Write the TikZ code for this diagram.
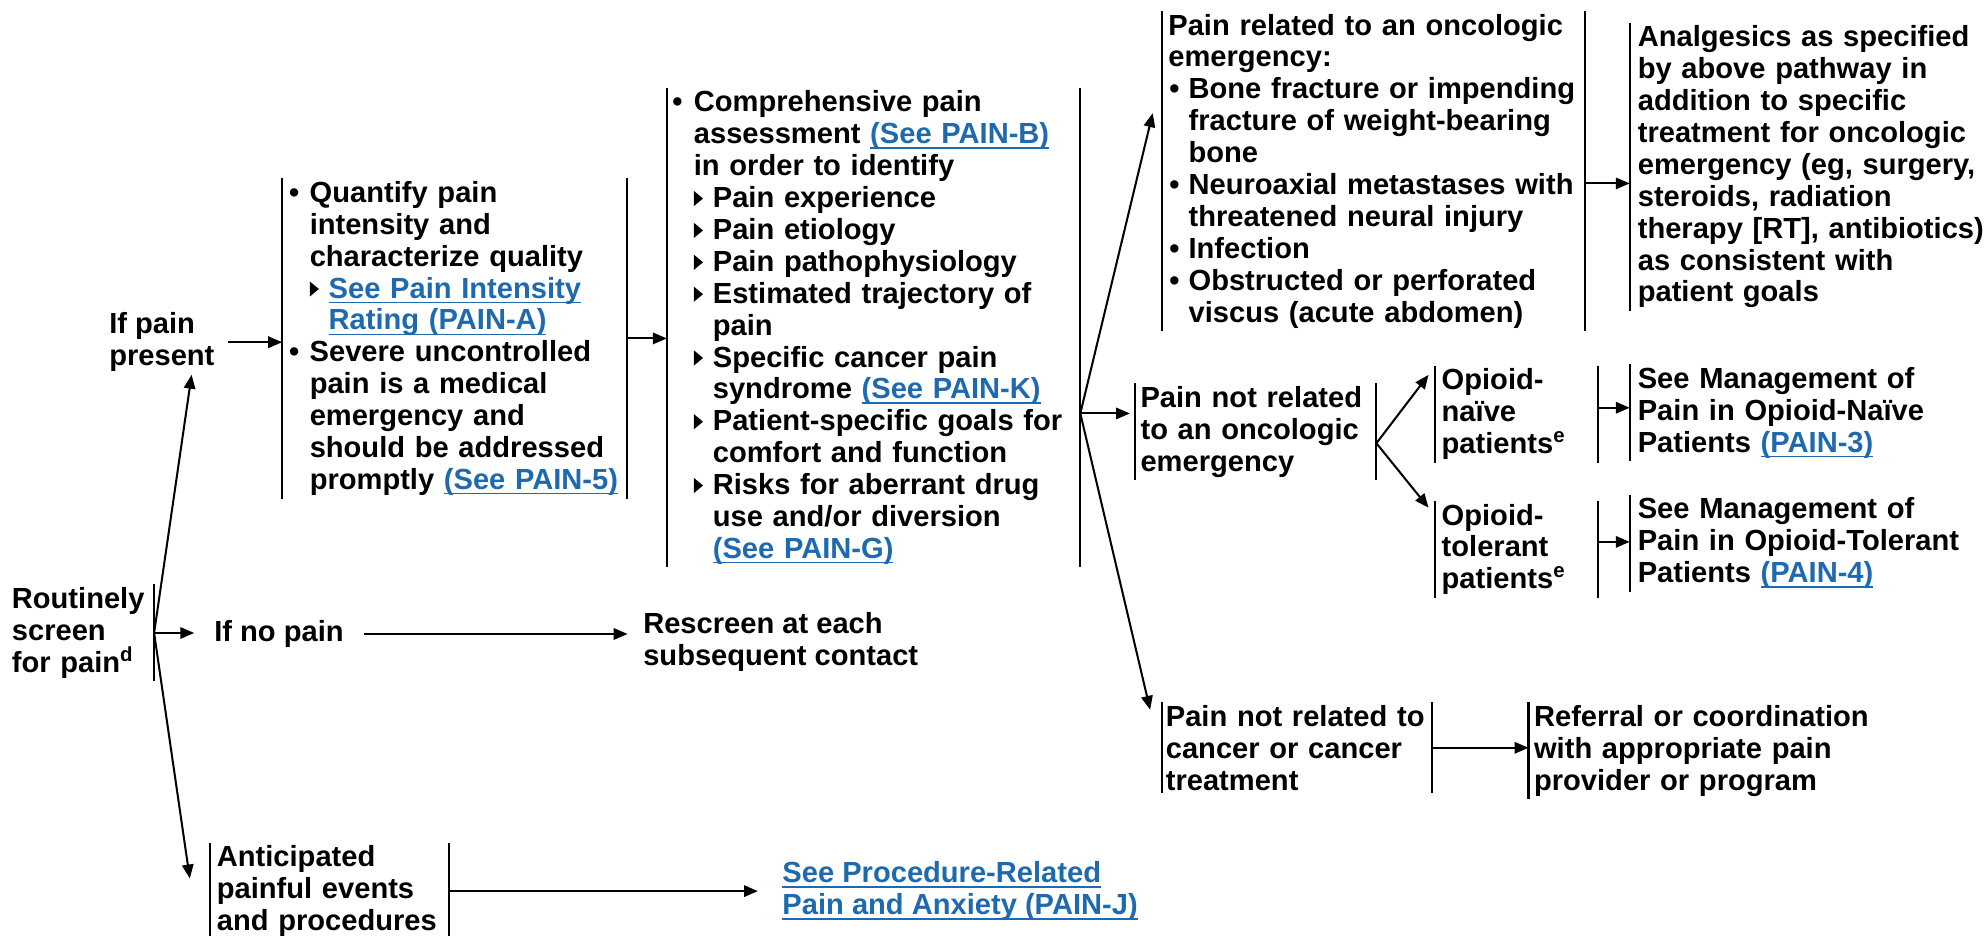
\documentclass[tikz,border=0pt]{standalone}
\usepackage{fontspec}
\setmainfont{Liberation Sans}
\usetikzlibrary{arrows.meta}
\definecolor{linkblue}{HTML}{1F6AAE}
\newcommand\lnk[1]{{\color{linkblue}\setbox0\hbox{#1}\rlap{\rule[-2pt]{\wd0}{0.6pt}}\box0}}
\newcommand\tri{\tikz[baseline=0pt]\fill (0pt,0.6pt)--(0pt,6.6pt)--(3.6pt,3.6pt)--cycle;}
\newcommand\bu[2]{\hspace*{#1}\makebox[#2][l]{\textbullet}}
\newcommand\tr[1]{\makebox[#1][l]{\tri}}
\newcommand\ii[1]{\hspace*{#1}}
\begin{document}
\begin{tikzpicture}[x=0.5pt,y=-0.5pt,
  every node/.style={font=\fontsize{11.5pt}{12.6pt}\selectfont\bfseries, inner ysep=1pt, anchor=base west, align=left},
  arr/.style={line width=0.8pt, -{Triangle[length=5.5pt,width=4.5pt]}},
  bar/.style={line width=0.8pt}]
\useasboundingbox (0,0) rectangle (1568,739);

\node[inner xsep=3pt, text width=53pt] (rs) at (3,481) {Routinely\\screen\\for pain\textsuperscript{d}};
\node[inner xsep=5pt] (ip) at (76,289) {If pain\\present};
\node[inner xsep=7.75pt] (np) at (153.5,507) {If no pain};
\node[inner xsep=6pt] (rc) at (496,526) {Rescreen at each\\subsequent contact};
\node[inner xsep=2.5pt, text width=89pt] (ap) at (166,685) {Anticipated\\painful events\\and procedures};
\node[inner xsep=9.5pt] (pj) at (599,723) {\lnk{See Procedure-Related}\\\lnk{Pain and Anxiety (PAIN-J)}};

\node[inner xsep=2.5pt, text width=131pt] (b1) at (223,160) {%
\bu{0pt}{8.2pt}Quantify pain\\
\ii{8.2pt}intensity and\\
\ii{8.2pt}characterize quality\\
\ii{8.2pt}\tr{7.5pt}\lnk{See Pain Intensity}\\
\ii{15.7pt}\lnk{Rating (PAIN-A)}\\
\bu{0pt}{8.2pt}Severe uncontrolled\\
\ii{8.2pt}pain is a medical\\
\ii{8.2pt}emergency and\\
\ii{8.2pt}should be addressed\\
\ii{8.2pt}promptly \lnk{(See PAIN-5)}};

\node[inner xsep=3pt, text width=157pt] (b2) at (527,88.5) {%
\bu{-1pt}{8.5pt}Comprehensive pain\\
\ii{7.5pt}assessment \lnk{(See PAIN-B)}\\
\ii{7.5pt}in order to identify\\
\ii{7.5pt}\tr{7.5pt}Pain experience\\
\ii{7.5pt}\tr{7.5pt}Pain etiology\\
\ii{7.5pt}\tr{7.5pt}Pain pathophysiology\\
\ii{7.5pt}\tr{7.5pt}Estimated trajectory of\\
\ii{15pt}pain\\
\ii{7.5pt}\tr{7.5pt}Specific cancer pain\\
\ii{15pt}syndrome \lnk{(See PAIN-K)}\\
\ii{7.5pt}\tr{7.5pt}Patient-specific goals for\\
\ii{15pt}comfort and function\\
\ii{7.5pt}\tr{7.5pt}Risks for aberrant drug\\
\ii{15pt}use and/or diversion\\
\ii{15pt}\lnk{(See PAIN-G)}};

\node[inner xsep=2.5pt, text width=162pt] (pr) at (918,27.7) {%
Pain related to an oncologic\\
emergency:\\
\bu{0.4pt}{7.6pt}Bone fracture or impending\\
\ii{8pt}fracture of weight-bearing\\
\ii{8pt}bone\\
\bu{0.4pt}{7.6pt}Neuroaxial metastases with\\
\ii{8pt}threatened neural injury\\
\bu{0.4pt}{7.6pt}Infection\\
\bu{0.4pt}{7.6pt}Obstructed or perforated\\
\ii{8pt}viscus (acute abdomen)};

\node[inner xsep=3pt, text width=140pt] (an) at (1288,37) {%
Analgesics as specified\\by above pathway in\\addition to specific\\treatment for oncologic\\emergency (eg, surgery,\\steroids, radiation\\therapy [RT], antibiotics)\\as consistent with\\patient goals};

\node[inner xsep=2pt, text width=91pt] (pnr) at (897,322) {Pain not related\\to an oncologic\\emergency};
\node[inner xsep=2.5pt, text width=59pt] (on) at (1134,308) {Opioid-\\naïve\\patients\textsuperscript{e}};
\node[inner xsep=2.5pt, text width=59pt] (ot) at (1134,415) {Opioid-\\tolerant\\patients\textsuperscript{e}};
\node[inner xsep=3pt, text width=125pt] (sm1) at (1288,307) {See Management of\\Pain in Opioid-Naïve\\Patients \lnk{(PAIN-3)}};
\node[inner xsep=3pt, text width=131pt] (sm2) at (1288,410) {See Management of\\Pain in Opioid-Tolerant\\Patients \lnk{(PAIN-4)}};
\node[inner xsep=1.5pt, text width=103.5pt] (pnrc) at (918,574) {Pain not related to\\cancer or cancer\\treatment};
\node[inner xsep=2pt, text width=140pt] (rf) at (1208,574) {Referral or coordination\\with appropriate pain\\provider or program};

% bars
\foreach \n in {b1,b2,pr,an,pnr,on,ot,sm1,sm2,pnrc,rf,ap}
  \draw[bar] (\n.north west) -- (\n.south west);
\foreach \n in {rs,b1,b2,pr,pnr,on,ot,pnrc,ap}
  \draw[bar] (\n.north east) -- (\n.south east);

% connectors
\draw[arr] (rs.east) -- ([xshift=11.75pt]ip.south);
\draw[arr] (rs.east) -- (rs.east -| np.west);
\draw[arr] (rs.east) -- ([xshift=-8pt,yshift=5pt]ap.west);
\draw[arr] (ap.east) -- (ap.east -| pj.west);
\draw[arr] (np.east) -- (np.east -| rc.west);
\draw[arr] (ip.east) -- (ip.east -| b1.west);
\draw[arr] (b1.east) -- (b1.east -| b2.west);
\coordinate (br) at ([yshift=-33.9pt]b2.east);
\draw[arr] (br) -- ([xshift=-3.5pt,yshift=22.85pt]pr.west);
\draw[arr,shorten >=2pt] (br) -- (br -| pnr.west);
\draw[arr] (br) -- ([xshift=-4.5pt,yshift=15pt]pnrc.west);
\coordinate (prA) at ([yshift=-4.9pt]pr.east);
\draw[arr] (prA) -- (prA -| an.west);
\coordinate (pnrB) at ([yshift=-4.5pt]pnr.east);
\draw[arr] (pnrB) -- ([xshift=-2.5pt,yshift=15.5pt]on.west);
\draw[arr] (pnrB) -- ([xshift=-2.5pt,yshift=16.5pt]ot.west);
\coordinate (onA) at ([yshift=2.5pt]on.east);
\draw[arr] (onA) -- (onA -| sm1.west);
\coordinate (otA) at ([yshift=3pt]ot.east);
\draw[arr] (otA) -- (otA -| sm2.west);
\draw[arr] (pnrc.east) -- (pnrc.east -| rf.west);
\end{tikzpicture}
\end{document}
